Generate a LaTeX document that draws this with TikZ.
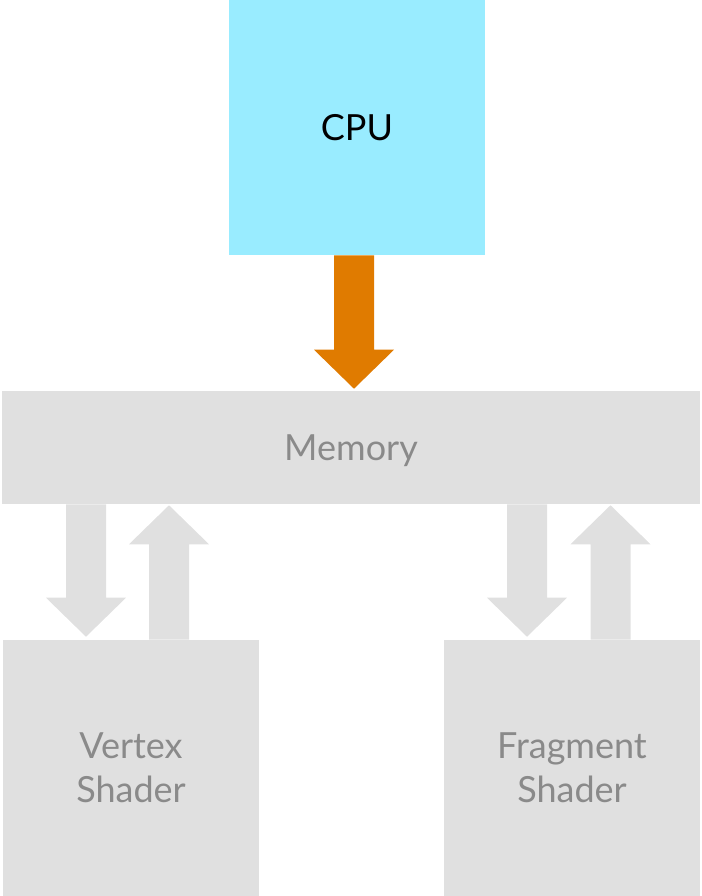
\documentclass[tikz,border=0pt]{standalone}
\usepackage{fontspec}
\setmainfont{Lato}
\usetikzlibrary{calc}
\definecolor{cpucyan}{RGB}{153,236,255}
\definecolor{busorange}{RGB}{224,123,0}
\definecolor{dimgray}{RGB}{224,224,224}
\definecolor{dimtext}{RGB}{138,138,138}
% fat vertical arrow: colour, start, tip
\newcommand\fatarrow[3]{%
  \fill[#1] let \p1=(#2), \p2=(#3), \p3=($(#3)!29.25pt!(#2)$) in
    (\x1-15pt,\y1) -- (\x1-15pt,\y3) -- (\x1-30pt,\y3) -- (\x2,\y2)
    -- (\x1+30pt,\y3) -- (\x1+15pt,\y3) -- (\x1+15pt,\y1) -- cycle;}
\begin{document}
\begin{tikzpicture}[
  x=0.75pt, y=-0.75pt,
  font=\fontsize{27}{33}\selectfont,
  box/.style={inner sep=0pt, align=center},
  cpubox/.style={box, fill=cpucyan, text=black, text depth=-4pt,
                 minimum width=192pt, minimum height=191.25pt},
  membox/.style={box, fill=dimgray, text=dimtext, text depth=-1pt,
                 minimum width=523.5pt, minimum height=84.75pt},
  shaderbox/.style={box, fill=dimgray, text=dimtext, text depth=-4pt,
                    minimum width=192pt, minimum height=192pt}
]
\useasboundingbox (0,0) rectangle (701,896);

% boxes
\node[cpubox] (cpu) at (357,127.5) {CPU};
\node[membox] (mem) at (351,447.5) {Memory};
\node[shaderbox] (vs) at (131,768) {Vertex\\Shader};
\node[shaderbox] (fs) at (572,768) {Fragment\\Shader};

% arrow ends
\coordinate (cputip) at ($(mem.north)+(3,-2)$);
\coordinate (vsin) at ($(vs.north)+(-45,-3)$);
\coordinate (vsout) at ($(vs.north)+(38,0)$);
\coordinate (fsin) at ($(fs.north)+(-45,-3)$);
\coordinate (fsout) at ($(fs.north)+(38.5,0)$);

% arrows
\fatarrow{busorange}{cpu.south -| cputip}{cputip}
\fatarrow{dimgray}{vsin |- mem.south}{vsin}
\fatarrow{dimgray}{vsout}{$(vsout |- mem.south)+(0,1)$}
\fatarrow{dimgray}{fsin |- mem.south}{fsin}
\fatarrow{dimgray}{fsout}{$(fsout |- mem.south)+(0,1)$}
\end{tikzpicture}
\end{document}
